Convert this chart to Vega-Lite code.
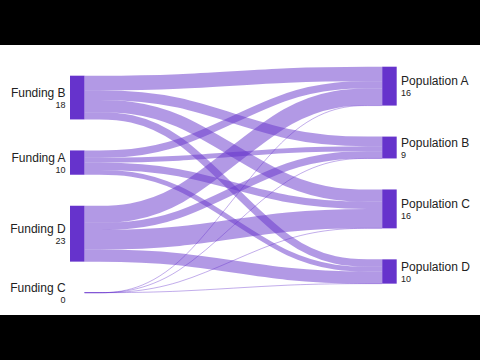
{
  "$schema": "https://vega.github.io/schema/vega-lite/v6.json",
  "width": 480,
  "height": 270,
  "autosize": {"type": "none"},
  "padding": {"left": 0, "right": 0, "top": 45, "bottom": 45},
  "background": "black",
  "config": {"view": {"stroke": null, "fill": "white"}},
  "datasets": {
    "nodes": [
      {"name": "Funding B", "column": 0, "order": 0, "value": 18},
      {"name": "Funding A", "column": 0, "order": 1, "value": 10},
      {"name": "Funding D", "column": 0, "order": 2, "value": 23},
      {"name": "Funding C", "column": 0, "order": 3, "value": 0},
      {"name": "Population A", "column": 1, "order": 0, "value": 16},
      {"name": "Population B", "column": 1, "order": 1, "value": 9},
      {"name": "Population C", "column": 1, "order": 2, "value": 16},
      {"name": "Population D", "column": 1, "order": 3, "value": 10}
    ],
    "links": [
      {"source": "Funding B", "target": "Population A", "value": 6},
      {"source": "Funding B", "target": "Population B", "value": 4},
      {"source": "Funding B", "target": "Population C", "value": 5},
      {"source": "Funding B", "target": "Population D", "value": 3},
      {"source": "Funding A", "target": "Population A", "value": 3},
      {"source": "Funding A", "target": "Population B", "value": 2},
      {"source": "Funding A", "target": "Population C", "value": 3},
      {"source": "Funding A", "target": "Population D", "value": 2},
      {"source": "Funding D", "target": "Population A", "value": 7},
      {"source": "Funding D", "target": "Population B", "value": 3},
      {"source": "Funding D", "target": "Population C", "value": 8},
      {"source": "Funding D", "target": "Population D", "value": 5},
      {"source": "Funding C", "target": "Population A", "value": 0},
      {"source": "Funding C", "target": "Population B", "value": 0},
      {"source": "Funding C", "target": "Population C", "value": 0},
      {"source": "Funding C", "target": "Population D", "value": 0}
    ]
  },
  "layer": [
    {
      "data": {"name": "links"},
      "transform": [
        {"lookup": "source", "from": {"data": {"name": "nodes"}, "key": "name", "fields": ["order"]}, "as": ["so"]},
        {"lookup": "target", "from": {"data": {"name": "nodes"}, "key": "name", "fields": ["order"]}, "as": ["to"]},
        {"window": [{"op": "sum", "field": "value", "as": "scum"}], "sort": [{"field": "so"}, {"field": "to"}], "frame": [null, 0]},
        {"window": [{"op": "sum", "field": "value", "as": "tcum"}], "sort": [{"field": "to"}, {"field": "so"}], "frame": [null, 0]},
        {"calculate": "datum.scum - datum.value / 2 + datum.so * 12.76 + 3.7", "as": "ys"},
        {"calculate": "datum.tcum - datum.value / 2 + datum.to * 12.76", "as": "yt"},
        {"calculate": "[0, 0.3, 0.7, 1]", "as": "f"},
        {"flatten": ["f"]},
        {"calculate": "0.04438 + datum.f * (1 - 2 * 0.04438)", "as": "px"},
        {"calculate": "datum.f < 0.5 ? datum.ys : datum.yt", "as": "py"}
      ],
      "mark": {"type": "line", "interpolate": "basis", "color": "#6633cc", "strokeOpacity": 0.5, "strokeCap": "butt"},
      "encoding": {
        "x": {"field": "px", "type": "quantitative", "scale": {"domain": [-0.21426, 1.25497], "nice": false, "zero": false}, "axis": null},
        "y": {"field": "py", "type": "quantitative", "scale": {"domain": [-8.93, 102.18], "reverse": true, "nice": false, "zero": false}, "axis": null},
        "detail": [{"field": "source"}, {"field": "target"}],
        "size": {
          "field": "value", "type": "quantitative",
          "scale": {"domain": [0, 10], "range": [0, 24.3], "zero": true, "nice": false},
          "legend": null,
          "condition": {"test": "datum.value == 0", "value": 0.8}
        }
      }
    },
    {
      "data": {"name": "nodes"},
      "transform": [
        {"window": [{"op": "sum", "field": "value", "as": "cum"}], "groupby": ["column"], "sort": [{"field": "order"}], "frame": [null, 0]},
        {"calculate": "datum.cum - datum.value + datum.order * 12.76 + (datum.column == 0 ? 3.7 : 0)", "as": "y0"},
        {"calculate": "datum.y0 + datum.value", "as": "y1"},
        {"calculate": "datum.column == 0 ? 0 : 1 - 0.04438", "as": "x0"},
        {"calculate": "datum.x0 + 0.04438", "as": "x1"}
      ],
      "mark": {"type": "rect", "color": "#6633cc"},
      "encoding": {
        "x": {"field": "x0", "type": "quantitative", "scale": {"domain": [-0.21426, 1.25497], "nice": false, "zero": false}, "axis": null},
        "x2": {"field": "x1"},
        "y": {"field": "y0", "type": "quantitative", "scale": {"domain": [-8.93, 102.18], "reverse": true, "nice": false, "zero": false}, "axis": null},
        "y2": {"field": "y1"}
      }
    },
    {
      "data": {"name": "nodes"},
      "transform": [
        {"window": [{"op": "sum", "field": "value", "as": "cum"}], "groupby": ["column"], "sort": [{"field": "order"}], "frame": [null, 0]},
        {"calculate": "datum.cum - datum.value / 2 + datum.order * 12.76 + (datum.column == 0 ? 3.7 : 0)", "as": "ym"},
        {"calculate": "datum.column == 0 ? -0.0135 : 1.0135", "as": "lx"}
      ],
      "encoding": {
        "x": {"field": "lx", "type": "quantitative", "scale": {"domain": [-0.21426, 1.25497], "nice": false, "zero": false}, "axis": null},
        "y": {"field": "ym", "type": "quantitative", "scale": {"domain": [-8.93, 102.18], "reverse": true, "nice": false, "zero": false}, "axis": null}
      },
      "layer": [
        {
          "transform": [{"filter": "datum.column == 0"}],
          "mark": {"type": "text", "align": "right", "baseline": "alphabetic", "dy": -0.7, "font": "Liberation Sans", "fontSize": 12, "color": "#222222"},
          "encoding": {"text": {"field": "name"}}
        },
        {
          "transform": [{"filter": "datum.column == 0"}],
          "mark": {"type": "text", "align": "right", "baseline": "alphabetic", "dy": 10, "font": "Liberation Sans", "fontSize": 9, "color": "#222222"},
          "encoding": {"text": {"field": "value", "type": "quantitative"}}
        },
        {
          "transform": [{"filter": "datum.column == 1"}],
          "mark": {"type": "text", "align": "left", "baseline": "alphabetic", "dy": -0.7, "font": "Liberation Sans", "fontSize": 12, "color": "#222222"},
          "encoding": {"text": {"field": "name"}}
        },
        {
          "transform": [{"filter": "datum.column == 1"}],
          "mark": {"type": "text", "align": "left", "baseline": "alphabetic", "dy": 10, "font": "Liberation Sans", "fontSize": 9, "color": "#222222"},
          "encoding": {"text": {"field": "value", "type": "quantitative"}}
        }
      ]
    }
  ]
}
